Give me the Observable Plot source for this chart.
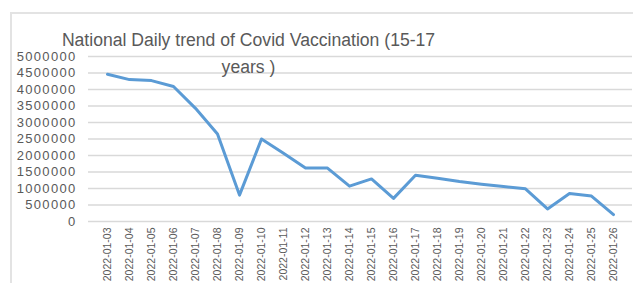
<!DOCTYPE html>
<html>
<head>
<meta charset="utf-8">
<script src="https://cdn.jsdelivr.net/npm/d3@7"></script>
<script src="https://cdn.jsdelivr.net/npm/@observablehq/plot@0.6"></script>
<style>
  html, body { margin: 0; padding: 0; background: #fff; }
  #wrap { position: relative; width: 633px; height: 283px; overflow: hidden; font-family: "Liberation Sans", Arial, sans-serif; }
  #frame { position: absolute; left: 10px; top: 12px; width: 700px; height: 400px; border-top: 2px solid #e3e3e3; border-left: 2px solid #e3e3e3; box-sizing: border-box; }
  #title { position: absolute; left: 0; top: 27px; width: 497px; text-align: center; font-size: 17.6px; line-height: 27px; color: #595959; }
  #wrap svg { position: absolute; left: 0; top: 0; }
  g[aria-label="y-axis tick label"] text { letter-spacing: 1.3px; }
</style>
</head>
<body>
<div id="wrap">
  <div id="frame"></div>
  <div id="chart"></div>
  <div id="title">National Daily trend of Covid Vaccination (15-17<br>years )</div>
</div>
<script>
const dates = ["2022-01-03","2022-01-04","2022-01-05","2022-01-06","2022-01-07","2022-01-08","2022-01-09","2022-01-10","2022-01-11","2022-01-12","2022-01-13","2022-01-14","2022-01-15","2022-01-16","2022-01-17","2022-01-18","2022-01-19","2022-01-20","2022-01-21","2022-01-22","2022-01-23","2022-01-24","2022-01-25","2022-01-26"];
const doses = [4460000,4300000,4270000,4090000,3430000,2650000,800000,2500000,2070000,1620000,1620000,1070000,1290000,700000,1400000,1310000,1210000,1130000,1060000,990000,380000,850000,770000,210000];
const yTicks = [0,500000,1000000,1500000,2000000,2500000,3000000,3500000,4000000,4500000,5000000];

const data = dates.map((d, i) => ({date: d, value: doses[i]}));

const chart = Plot.plot({
  width: 633,
  height: 283,
  marginLeft: 88,
  marginRight: 1,
  marginTop: 56,
  marginBottom: 62,
  style: {background: "transparent", fontFamily: "Liberation Sans, Arial, sans-serif", color: "#595959"},
  x: {type: "point", domain: dates, padding: 0.5, label: null},
  y: {domain: [0, 5000000], label: null},
  marks: [
    Plot.gridY(yTicks, {stroke: "#d9d9d9", strokeOpacity: 1, strokeWidth: 1.5}),
    Plot.axisY({ticks: yTicks, tickSize: 0, tickPadding: 12, tickFormat: d => String(d), fontSize: 13, fill: "#595959", label: null}),
    Plot.axisX({tickSize: 0, tickPadding: 6, tickRotate: -90, fontSize: 10.5, fill: "#595959", label: null}),
    Plot.line(data, {x: "date", y: "value", stroke: "#5b9bd5", strokeWidth: 3, strokeLinejoin: "round", strokeLinecap: "round"})
  ]
});
document.getElementById("chart").appendChild(chart);
</script>
</body>
</html>
